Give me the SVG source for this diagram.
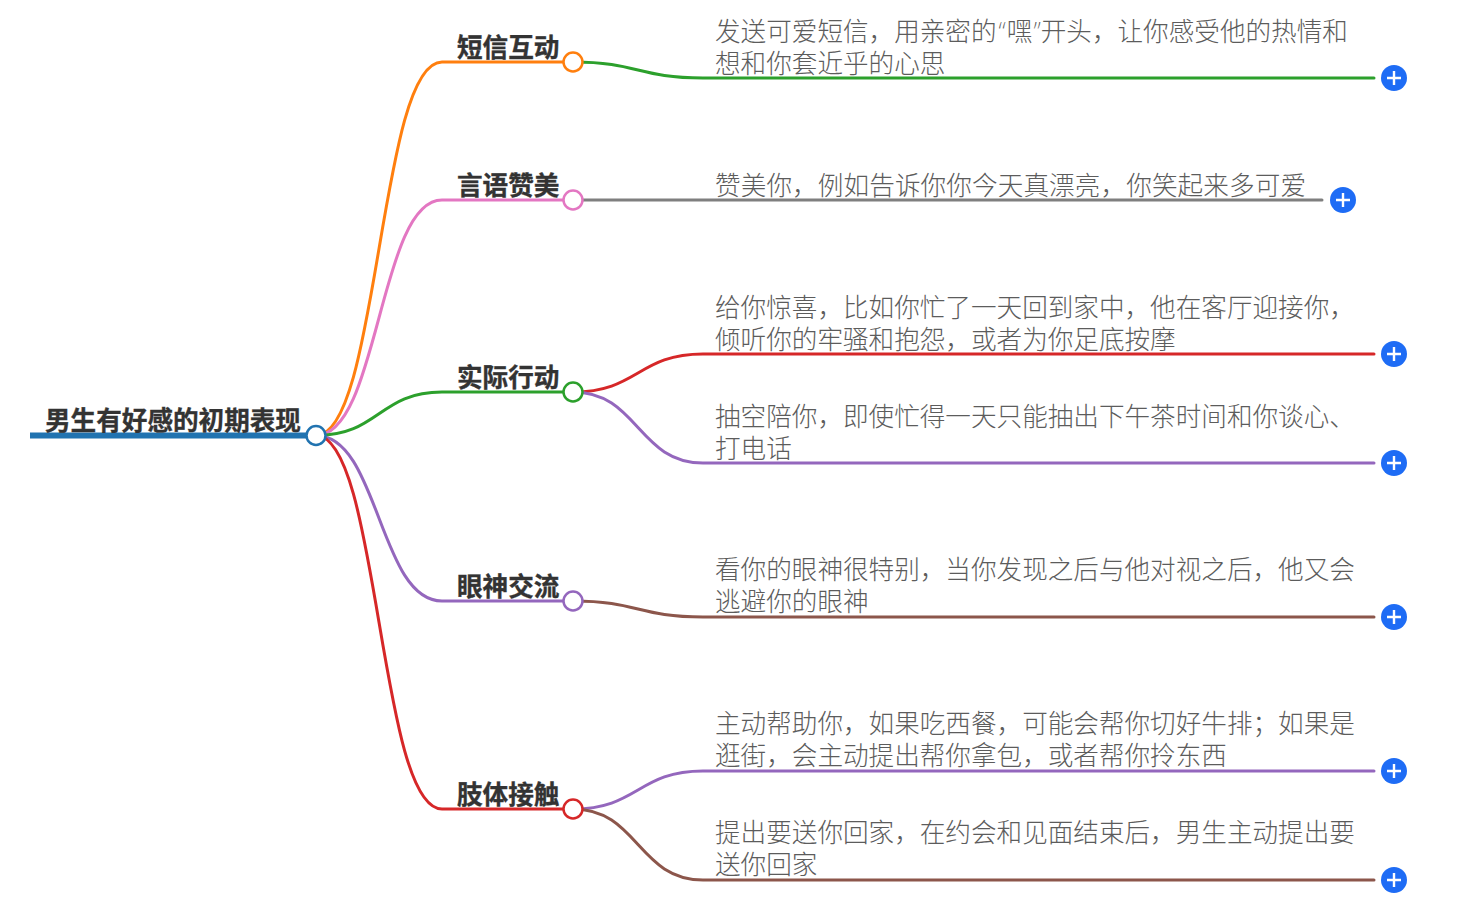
<svg xmlns="http://www.w3.org/2000/svg" width="1462" height="902" viewBox="0 0 1462 902">
<style>
text{font-family:"Noto Sans","Noto Sans CJK SC",sans-serif}
.t{font-size:25.6px;font-weight:700;fill:#333;stroke:#333;stroke-width:.35}
.d{font-size:25.6px;font-weight:200;fill:#5c5c5c}
.c{fill:none;stroke-width:3;stroke-linecap:round}
.n{fill:#fff;stroke-width:2.500}
.p{fill:#1e6cf5}
.x{stroke:#fff;stroke-width:2.400;fill:none}
</style>
<rect width="1462" height="902" fill="#fff"/>
<g id="connectors">
<path d="M30 435.500H316" fill="none" stroke="#2173b0" stroke-width="6"/>
<path class="c" stroke="#ff7f0e" d="M316 435.500C379 435.500 379 62 442 62H573"/>
<path class="c" stroke="#e377c2" d="M316 435.500C379 435.500 379 200 442 200H573"/>
<path class="c" stroke="#2ca02c" d="M316 435.500C379 435.500 379 392 442 392H573"/>
<path class="c" stroke="#9467bd" d="M316 435.500C379 435.500 379 601 442 601H573"/>
<path class="c" stroke="#d62728" d="M316 435.500C379 435.500 379 809 442 809H573"/>
<path class="c" stroke="#2ca02c" d="M573 62C638 62 638 78 703 78H1374"/>
<path class="c" stroke="#7f7f7f" d="M573 200H1322"/>
<path class="c" stroke="#d62728" d="M573 392C638 392 638 354 703 354H1374"/>
<path class="c" stroke="#9467bd" d="M573 392C638 392 638 463 703 463H1374"/>
<path class="c" stroke="#8c564b" d="M573 601C638 601 638 617 703 617H1374"/>
<path class="c" stroke="#9467bd" d="M573 809C638 809 638 771 703 771H1374"/>
<path class="c" stroke="#8c564b" d="M573 809C638 809 638 880 703 880H1374"/>
</g>
<g id="root"><text class="t" x="45" y="430">男生有好感的初期表现</text><circle class="n" stroke="#2173b0" cx="316" cy="435.500" r="9.500"/></g>
<g id="b1"><text class="t" x="457" y="57">短信互动</text><circle class="n" stroke="#ff7f0e" cx="573" cy="62" r="9.500"/></g>
<g id="b2"><text class="t" x="457" y="195">言语赞美</text><circle class="n" stroke="#e377c2" cx="573" cy="200" r="9.500"/></g>
<g id="b3"><text class="t" x="457" y="387">实际行动</text><circle class="n" stroke="#2ca02c" cx="573" cy="392" r="9.500"/></g>
<g id="b4"><text class="t" x="457" y="596">眼神交流</text><circle class="n" stroke="#9467bd" cx="573" cy="601" r="9.500"/></g>
<g id="b5"><text class="t" x="457" y="804">肢体接触</text><circle class="n" stroke="#d62728" cx="573" cy="809" r="9.500"/></g>
<g id="l1"><text class="d" x="715" y="41">发送可爱短信，用亲密的<tspan dx="2">“</tspan><tspan dx="1">嘿</tspan><tspan dx="1">”</tspan>开头，让你感受他的热情和</text><text class="d" x="715" y="73">想和你套近乎的心思</text><circle class="p" cx="1394" cy="78" r="13"/><path class="x" d="M1387 78H1401M1394 71V85"/></g>
<g id="l2"><text class="d" x="715" y="195" textLength="591">赞美你，例如告诉你你今天真漂亮，你笑起来多可爱</text><circle class="p" cx="1343" cy="200" r="13"/><path class="x" d="M1336 200H1350M1343 193V207"/></g>
<g id="l3"><text class="d" x="715" y="317">给你惊喜，比如你忙了一天回到家中，他在客厅迎接你，</text><text class="d" x="715" y="349">倾听你的牢骚和抱怨，或者为你足底按摩</text><circle class="p" cx="1394" cy="354" r="13"/><path class="x" d="M1387 354H1401M1394 347V361"/></g>
<g id="l4"><text class="d" x="715" y="426">抽空陪你，即使忙得一天只能抽出下午茶时间和你谈心、</text><text class="d" x="715" y="458">打电话</text><circle class="p" cx="1394" cy="463" r="13"/><path class="x" d="M1387 463H1401M1394 456V470"/></g>
<g id="l5"><text class="d" x="715" y="579">看你的眼神很特别，当你发现之后与他对视之后，他又会</text><text class="d" x="715" y="611">逃避你的眼神</text><circle class="p" cx="1394" cy="617" r="13"/><path class="x" d="M1387 617H1401M1394 610V624"/></g>
<g id="l6"><text class="d" x="715" y="733">主动帮助你，如果吃西餐，可能会帮你切好牛排；如果是</text><text class="d" x="715" y="765">逛街，会主动提出帮你拿包，或者帮你拎东西</text><circle class="p" cx="1394" cy="771" r="13"/><path class="x" d="M1387 771H1401M1394 764V778"/></g>
<g id="l7"><text class="d" x="715" y="842">提出要送你回家，在约会和见面结束后，男生主动提出要</text><text class="d" x="715" y="874">送你回家</text><circle class="p" cx="1394" cy="880" r="13"/><path class="x" d="M1387 880H1401M1394 873V887"/></g>
</svg>
